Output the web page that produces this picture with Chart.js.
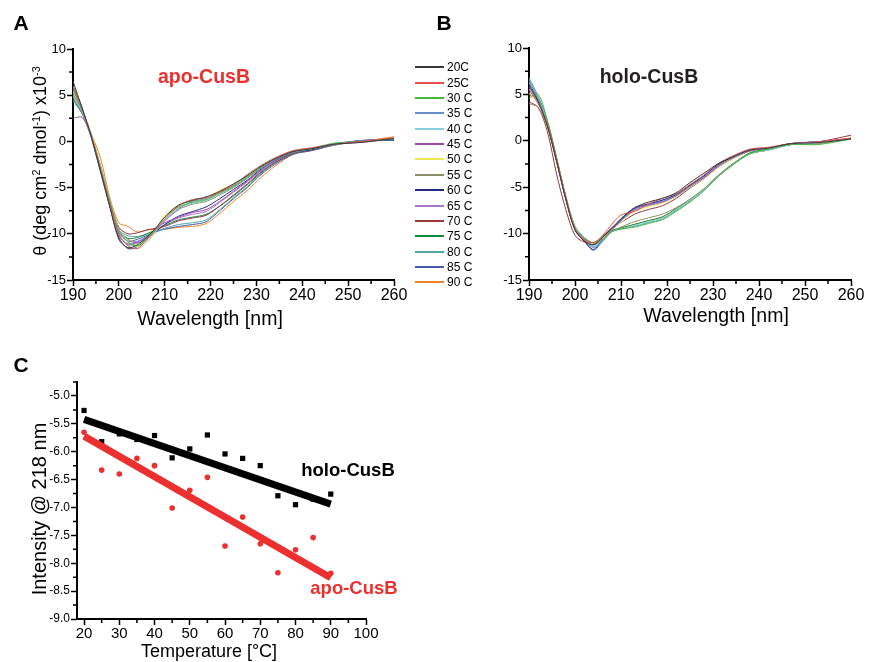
<!DOCTYPE html>
<html>
<head>
<meta charset="utf-8">
<script src="https://cdn.jsdelivr.net/npm/chart.js@4.4.1/dist/chart.umd.min.js"></script>
<style>
body { margin: 0; background: #fff; font-family: 'Liberation Sans', Arial, sans-serif; }
#wrap { position: relative; width: 869px; height: 662px; overflow: hidden; }
canvas { position: absolute; left: 0; top: 0; }
.t { position: absolute; white-space: nowrap; transform: translate(-50%, -50%); color: #000; }
.b { font-weight: bold; }
sup { font-size: 0.6em; vertical-align: 0.55em; line-height: 0; }
.leg { position: absolute; left: 415px; font-size: 12px; line-height: 14px; height: 14px; white-space: nowrap; }
.leg span { position: absolute; left: 0; top: 6px; width: 29px; height: 2px; }
.leg b { position: absolute; left: 32px; top: 0; font-weight: normal; }
</style>
</head>
<body>
<div id="wrap">
  <canvas id="chartA" width="869" height="662"></canvas>
  <canvas id="chartB" width="869" height="662"></canvas>
  <canvas id="chartC" width="869" height="662"></canvas>

  <div class="t b" style="left:21px;top:23px;font-size:21px;">A</div>
  <div class="t b" style="left:444px;top:23px;font-size:21px;">B</div>
  <div class="t b" style="left:21px;top:365px;font-size:21px;">C</div>

  <div class="t b" style="left:204px;top:76px;font-size:19.5px;color:#ec2f2f;">apo-CusB</div>
  <div class="t b" style="left:649px;top:76px;font-size:19.5px;color:#231f20;">holo-CusB</div>
  <div class="t b" style="left:348px;top:470px;font-size:18.5px;">holo-CusB</div>
  <div class="t b" style="left:354px;top:588px;font-size:18.5px;color:#ec2f2f;">apo-CusB</div>

  <div class="t" style="left:40px;top:161px;font-size:18px;transform:translate(-50%,-50%) rotate(-90deg);">θ (deg cm<sup>2</sup> dmol<sup>-1</sup>) x10<sup>-3</sup></div>
  <div class="t" style="left:210px;top:318px;font-size:19.5px;">Wavelength [nm]</div>
  <div class="t" style="left:716px;top:315px;font-size:19.5px;">Wavelength [nm]</div>
  <div class="t" style="left:39px;top:509px;font-size:20px;transform:translate(-50%,-50%) rotate(-90deg);">Intensity @ 218 nm</div>
  <div class="t" style="left:209px;top:651px;font-size:18px;">Temperature [°C]</div>
  <div id="legend"></div>
</div>

<script>
let wavelength = [190, 192, 194, 196, 198, 200, 202, 204, 206, 208, 210, 213, 216, 219, 222, 225, 228, 231, 234, 238, 242, 247, 253, 260];
let temps = ['20C', '25C', '30 C', '35 C', '40 C', '45 C', '50 C', '55 C', '60 C', '65 C', '70 C', '75 C', '80 C', '85 C', '90 C'];
let colors = ['#3a3a3a', '#e8504f', '#45b83a', '#6a8ccc', '#86d2de', '#a045b0', '#ece850', '#8c8c68', '#1f2d7c', '#a878c8', '#983838', '#12893a', '#4eaaaa', '#4a5aa6', '#f28228'];

// apo-CusB spectra, one row per temperature
let apoCurves = [
  [6.5, 3.6, 0.5, -3.2, -7.0, -10.6, -11.5, -11.2, -10.4, -9.4, -8.2, -6.9, -6.4, -6.0, -5.4, -4.6, -3.7, -2.7, -1.9, -1.1, -0.8, -0.3, -0.1, 0.3],
  [6.0, 3.5, 0.6, -3.0, -6.6, -10.0, -11.3, -11.6, -10.7, -9.6, -8.4, -7.0, -6.3, -6.1, -5.5, -4.7, -3.6, -2.6, -1.8, -1.0, -0.7, -0.3, 0.0, 0.4],
  [5.6, 3.4, 0.7, -2.9, -6.4, -9.6, -10.9, -11.3, -10.5, -9.5, -8.2, -7.1, -6.6, -6.3, -5.6, -4.9, -3.9, -2.8, -1.9, -1.1, -0.8, -0.2, 0.0, 0.3],
  [5.8, 3.3, 0.4, -3.1, -6.7, -10.1, -11.2, -11.0, -10.3, -9.6, -8.6, -7.3, -6.5, -6.2, -5.5, -4.8, -3.8, -2.9, -2.0, -1.2, -0.8, -0.3, 0.1, 0.2],
  [5.0, 3.2, 0.5, -2.8, -6.3, -9.5, -10.8, -11.6, -11.0, -9.8, -8.5, -7.2, -6.7, -6.4, -5.7, -4.9, -3.9, -2.8, -1.9, -1.0, -0.7, -0.2, 0.0, 0.3],
  [2.5, 2.6, 0.4, -3.0, -6.9, -10.2, -11.1, -10.9, -10.4, -9.5, -8.8, -8.2, -7.7, -7.4, -6.5, -5.4, -4.3, -3.1, -2.1, -1.1, -0.8, -0.3, -0.1, 0.3],
  [5.4, 3.5, 0.8, -2.7, -6.2, -9.6, -10.9, -11.4, -10.8, -9.7, -8.0, -6.9, -6.4, -6.2, -5.3, -4.6, -3.7, -2.7, -1.8, -1.0, -0.8, -0.3, 0.0, 0.3],
  [5.2, 3.3, 0.6, -2.8, -6.4, -9.5, -10.6, -11.0, -10.5, -9.7, -8.6, -7.4, -6.8, -6.5, -5.8, -5.0, -4.0, -2.9, -2.0, -1.2, -0.8, -0.3, 0.0, 0.3],
  [6.0, 3.6, 0.4, -3.3, -7.0, -10.4, -11.6, -11.4, -10.6, -9.8, -9.0, -8.1, -7.6, -7.1, -6.2, -5.2, -4.2, -3.0, -2.1, -1.2, -0.9, -0.3, 0.1, 0.2],
  [4.8, 3.1, 0.5, -2.9, -6.6, -9.8, -10.8, -10.8, -10.3, -9.6, -9.0, -8.3, -7.9, -7.6, -6.6, -5.5, -4.4, -3.2, -2.2, -1.2, -0.9, -0.3, 0.0, 0.3],
  [5.0, 3.2, 0.6, -2.7, -6.3, -9.3, -10.0, -9.9, -9.6, -9.4, -9.2, -8.6, -8.3, -8.0, -7.0, -5.8, -4.6, -3.3, -2.3, -1.3, -0.9, -0.3, 0.0, 0.3],
  [4.6, 3.0, 0.5, -2.8, -6.5, -9.7, -10.5, -10.4, -10.0, -9.6, -9.1, -8.5, -8.2, -7.9, -7.0, -5.9, -4.7, -3.4, -2.3, -1.3, -0.9, -0.3, 0.0, 0.2],
  [4.4, 3.0, 0.6, -2.6, -6.3, -9.6, -10.2, -10.3, -10.1, -9.8, -9.4, -9.0, -8.8, -8.5, -7.4, -6.1, -4.9, -3.5, -2.4, -1.3, -0.9, -0.4, 0.0, 0.3],
  [5.5, 3.4, 0.6, -2.8, -6.5, -9.8, -10.8, -10.6, -10.2, -9.8, -9.5, -9.2, -9.0, -8.7, -7.5, -6.2, -5.0, -3.6, -2.5, -1.4, -1.0, -0.4, 0.1, 0.1],
  [5.2, 3.3, 0.8, -1.8, -6.0, -8.8, -9.2, -9.8, -9.6, -9.5, -9.5, -9.3, -9.2, -8.9, -7.8, -6.5, -5.3, -3.9, -2.7, -1.4, -1.0, -0.4, 0.0, 0.5]
];

// holo-CusB spectra, one row per temperature
let holoCurves = [
  [6.0, 4.2, 1.6, -2.2, -6.3, -9.6, -10.8, -11.2, -10.4, -9.4, -8.4, -7.2, -6.6, -6.2, -5.6, -4.5, -3.5, -2.5, -1.8, -1.0, -0.8, -0.3, -0.2, 0.2],
  [5.5, 4.0, 1.8, -2.0, -6.1, -9.5, -10.6, -11.0, -10.2, -9.0, -8.0, -7.6, -6.8, -6.2, -5.7, -4.7, -3.7, -2.5, -1.7, -0.9, -0.7, -0.3, -0.1, 0.3],
  [4.6, 5.0, 2.2, -1.8, -6.0, -9.4, -10.5, -11.0, -10.6, -9.8, -9.5, -9.3, -8.9, -8.5, -7.6, -6.6, -5.4, -3.9, -2.7, -1.4, -0.9, -0.4, -0.4, 0.2],
  [6.6, 4.5, 1.8, -2.1, -6.2, -9.5, -10.7, -11.5, -10.8, -9.7, -8.6, -7.4, -6.9, -6.5, -5.9, -4.9, -3.9, -2.7, -1.9, -1.0, -0.8, -0.3, -0.1, 0.2],
  [6.3, 4.6, 2.0, -1.9, -6.0, -9.3, -10.4, -11.3, -10.7, -9.8, -9.5, -9.1, -8.7, -8.3, -7.4, -6.4, -5.3, -3.9, -2.7, -1.4, -1.0, -0.4, -0.2, 0.2],
  [5.8, 4.3, 1.7, -2.1, -6.2, -9.5, -10.7, -11.2, -10.4, -9.5, -8.6, -7.3, -6.9, -6.6, -5.9, -4.9, -4.0, -2.8, -1.9, -1.1, -0.8, -0.4, -0.2, 0.2],
  [5.2, 4.1, 1.8, -2.0, -6.1, -9.4, -10.6, -11.1, -10.5, -9.6, -8.8, -7.6, -7.1, -6.7, -6.0, -5.0, -4.1, -2.9, -2.0, -1.1, -0.8, -0.4, -0.2, 0.2],
  [4.0, 3.6, 1.5, -2.3, -6.0, -9.2, -10.4, -11.0, -10.6, -9.8, -9.3, -8.7, -8.3, -7.9, -7.2, -6.3, -5.2, -3.8, -2.6, -1.4, -1.0, -0.4, -0.3, 0.2],
  [6.2, 4.4, 1.7, -2.2, -6.3, -9.6, -10.8, -11.7, -10.6, -9.5, -8.5, -7.3, -6.8, -6.4, -5.8, -4.8, -3.8, -2.6, -1.8, -1.0, -0.8, -0.3, -0.1, 0.2],
  [5.6, 4.2, 1.6, -2.2, -6.2, -9.5, -10.7, -11.2, -10.5, -9.5, -8.6, -7.5, -7.0, -6.6, -6.0, -5.0, -4.0, -2.8, -1.9, -1.1, -0.8, -0.3, -0.2, 0.2],
  [4.2, 3.6, 1.0, -3.6, -7.4, -10.2, -10.9, -11.0, -10.3, -9.4, -8.8, -7.9, -7.4, -7.0, -6.2, -5.1, -4.1, -2.9, -2.0, -1.1, -0.8, -0.3, -0.1, 0.6],
  [5.0, 4.6, 2.0, -1.9, -6.0, -9.3, -10.5, -11.2, -10.7, -9.7, -9.4, -9.0, -8.6, -8.2, -7.3, -6.3, -5.2, -3.8, -2.6, -1.3, -0.9, -0.4, -0.2, 0.2],
  [6.8, 4.8, 2.1, -1.9, -6.1, -9.4, -10.6, -11.4, -10.8, -9.8, -9.5, -9.2, -8.8, -8.4, -7.5, -6.5, -5.3, -3.9, -2.7, -1.4, -1.0, -0.4, -0.2, 0.2],
  [6.4, 4.5, 1.8, -2.1, -6.2, -9.5, -10.8, -11.8, -10.8, -9.6, -8.4, -7.2, -6.8, -6.4, -5.8, -4.8, -3.8, -2.6, -1.8, -1.0, -0.8, -0.3, -0.1, 0.2],
  [5.0, 4.2, 1.8, -2.0, -6.1, -9.4, -10.5, -11.0, -10.6, -9.7, -9.4, -9.0, -8.6, -8.2, -7.4, -6.4, -5.3, -3.9, -2.7, -1.4, -1.0, -0.4, -0.2, 0.3]
];

// panel C: intensity at 218 nm
let temperature = [20, 25, 30, 35, 40, 45, 50, 55, 60, 65, 70, 75, 80, 85, 90];
let holoIntensity = [-5.26, -5.82, -5.68, -5.78, -5.71, -6.11, -5.95, -5.70, -6.04, -6.12, -6.25, -6.79, -6.95, -6.85, -6.76];
let apoIntensity = [-5.65, -6.33, -6.40, -6.12, -6.25, -7.01, -6.69, -6.46, -7.69, -7.17, -7.65, -8.17, -7.76, -7.54, -8.18];
let fitT = [20, 90];
let holoFit = [-5.42, -6.94];
let apoFit = [-5.72, -8.26];

// tick values (major and minor)
let waveTicks = [190, 200, 210, 220, 230, 240, 250, 260];
let thetaTicks = [-15, -10, -5, 0, 5, 10];
let tempTicks = [20, 30, 40, 50, 60, 70, 80, 90, 100];
let intTicks = [-9.0, -8.5, -8.0, -7.5, -7.0, -6.5, -6.0, -5.5, -5.0];
let waveMinor = [195, 205, 215, 225, 235, 245, 255];
let thetaMinor = [7.5, 2.5, -2.5, -7.5, -12.5];
let tempMinor = [25, 35, 45, 55, 65, 75, 85, 95];
let intMinor = [-4.75, -5.25, -5.75, -6.25, -6.75, -7.25, -7.75, -8.25, -8.75];

Chart.defaults.font.family = "'Liberation Sans', Arial, sans-serif";
Chart.defaults.color = '#000';

let minorTicks = {
    id: 'minorTicks',
    afterDraw(chart, args, opts) {
        let ctx = chart.ctx;
        let sx = chart.scales.x, sy = chart.scales.y;
        ctx.save();
        ctx.strokeStyle = '#000';
        ctx.lineWidth = 1.5;
        ctx.beginPath();
        opts.x.forEach(v => {
            let px = sx.getPixelForValue(v);
            ctx.moveTo(px, sy.bottom);
            ctx.lineTo(px, sy.bottom + 4);
        });
        opts.y.forEach(v => {
            let py = sy.getPixelForValue(v);
            ctx.moveTo(sx.left, py);
            ctx.lineTo(sx.left - 4, py);
        });
        ctx.stroke();
        ctx.restore();
    }
};

let makeAxes = (xo, yo) => ({
    x: {
        type: 'linear', min: xo.min, max: xo.max,
        afterFit: s => { s.height = 30; s.paddingLeft = 0; s.paddingRight = 0; },
        afterBuildTicks: s => { s.ticks = xo.ticks.map(v => ({ value: v })); },
        ticks: { autoSkip: false, maxRotation: 0, padding: 0, font: { size: xo.font }, callback: v => String(v) },
        grid: { drawOnChartArea: false, tickLength: 6, tickWidth: 1.5, tickColor: '#000' },
        border: { color: '#000', width: 2 }
    },
    y: {
        type: 'linear', min: yo.min, max: yo.max,
        afterFit: s => { s.width = 40; s.paddingTop = 0; s.paddingBottom = 0; },
        afterBuildTicks: s => { s.ticks = yo.ticks.map(v => ({ value: v })); },
        ticks: { autoSkip: false, padding: 1, font: { size: yo.font }, callback: yo.fmt },
        grid: { drawOnChartArea: false, tickLength: 6, tickWidth: 1.5, tickColor: '#000' },
        border: { color: '#000', width: 2 }
    }
});

let spectra = (curves) => curves.map((c, i) => ({
    label: temps[i],
    data: c.map((v, j) => ({ x: wavelength[j], y: v })),
    borderColor: colors[i],
    borderWidth: 1,
    pointRadius: 0,
    tension: 0.3,
    fill: false
}));

let baseOptions = (padding, scales, minor) => ({
    responsive: false,
    animation: false,
    devicePixelRatio: 1,
    layout: { padding: padding },
    scales: scales,
    plugins: { legend: { display: false }, tooltip: { enabled: false }, minorTicks: minor }
});

new Chart(document.getElementById('chartA'), {
    type: 'line',
    data: { datasets: spectra(apoCurves) },
    options: baseOptions({ left: 33, top: 49, right: 475, bottom: 352 },
        makeAxes({ min: 190, max: 260, ticks: waveTicks, font: 16 }, { min: -15, max: 10, ticks: thetaTicks, font: 13, fmt: v => String(v) }),
        { x: waveMinor, y: thetaMinor }),
    plugins: [minorTicks]
});

new Chart(document.getElementById('chartB'), {
    type: 'line',
    data: { datasets: spectra(holoCurves) },
    options: baseOptions({ left: 489, top: 48, right: 18, bottom: 352 },
        makeAxes({ min: 190, max: 260, ticks: waveTicks, font: 16 }, { min: -15, max: 10, ticks: thetaTicks, font: 13, fmt: v => String(v) }),
        { x: waveMinor, y: thetaMinor }),
    plugins: [minorTicks]
});

new Chart(document.getElementById('chartC'), {
    type: 'line',
    data: {
        datasets: [
            { data: fitT.map((t, i) => ({ x: t, y: holoFit[i] })), borderColor: '#000', borderWidth: 7, pointRadius: 0, borderCapStyle: 'butt' },
            { data: fitT.map((t, i) => ({ x: t, y: apoFit[i] })), borderColor: '#ec2f2f', borderWidth: 7, pointRadius: 0, borderCapStyle: 'butt' },
            { data: temperature.map((t, i) => ({ x: t, y: holoIntensity[i] })), showLine: false, pointStyle: 'rect', pointRadius: 3.7, pointBackgroundColor: '#000', pointBorderWidth: 0 },
            { data: temperature.map((t, i) => ({ x: t, y: apoIntensity[i] })), showLine: false, pointStyle: 'circle', pointRadius: 2.8, pointBackgroundColor: '#ec2f2f', pointBorderWidth: 0 }
        ]
    },
    options: baseOptions({ left: 37, top: 382, right: 503, bottom: 13 },
        makeAxes({ min: 18, max: 100, ticks: tempTicks, font: 15 }, { min: -9, max: -4.75, ticks: intTicks, font: 12, fmt: v => v.toFixed(1) }),
        { x: tempMinor, y: intMinor }),
    plugins: [minorTicks]
});

// legend between panels A and B
let legendHTML = '';
temps.forEach((name, i) => {
    let top = Math.round(67.3 + i * 15.36 - 7);
    legendHTML += `<div class="leg" style="top:${top}px"><span style="background:${colors[i]}"></span><b>${name}</b></div>`;
});
document.getElementById('legend').innerHTML = legendHTML;
</script>
</body>
</html>
